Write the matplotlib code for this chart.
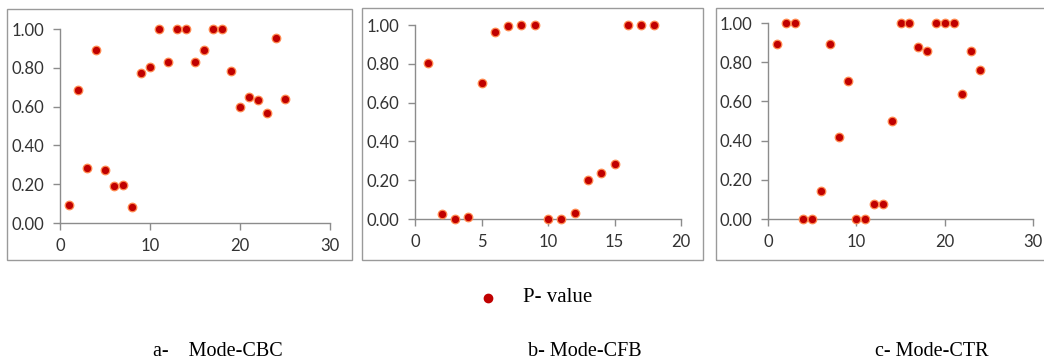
import matplotlib
matplotlib.use("Agg")
import matplotlib.pyplot as plt
from matplotlib.patches import Rectangle
from matplotlib.lines import Line2D

# ---- data ----
cbc_x = list(range(1, 26))
cbc_p = [0.095, 0.686, 0.284, 0.893, 0.272, 0.193, 0.198, 0.083, 0.771, 0.803,
         1.00, 0.828, 1.00, 1.00, 0.828, 0.890, 1.00, 1.00, 0.784, 0.597,
         0.652, 0.634, 0.567, 0.955, 0.638]

cfb_x = list(range(1, 19))
cfb_p = [0.804, 0.027, 0.0, 0.010, 0.699, 0.962, 0.997, 1.00, 1.00, 0.0,
         0.0, 0.033, 0.201, 0.238, 0.285, 1.00, 1.00, 1.00]

ctr_x = list(range(1, 25))
ctr_p = [0.891, 1.00, 1.00, 0.0, 0.0, 0.141, 0.891, 0.417, 0.702, 0.0,
         0.0, 0.075, 0.075, 0.498, 1.00, 1.00, 0.879, 0.857, 1.00, 1.00,
         1.00, 0.638, 0.857, 0.759]

x_limits = [30, 20, 30]
x_ticks = [[0, 10, 20, 30], [0, 5, 10, 15, 20], [0, 10, 20, 30]]
y_ticks = [0.0, 0.2, 0.4, 0.6, 0.8, 1.0]
captions = ["a-    Mode-CBC", "b- Mode-CFB", "c- Mode-CTR"]
legend_label = "P- value"

W, H = 1044, 361
fig = plt.figure(figsize=(W / 100, H / 100), dpi=100)
fig.patch.set_facecolor("white")

def fx(px):
    return px / W

def fy(py):
    return 1 - py / H

# panel frames (pixel coords: left, top, right, bottom)
frames = [(7, 9, 352, 260), (362, 8, 703, 260), (716, 8, 1060, 260)]
for (l, t, r, b) in frames:
    fig.patches.append(Rectangle((fx(l), fy(b)), fx(r - l), (b - t) / H,
                                 transform=fig.transFigure, fill=False,
                                 edgecolor="#9a9a9a", linewidth=1.0, zorder=0))

# axes boxes (pixel coords: left, top(y=1), right, bottom(y=0))
boxes = [(60, 29, 330, 223), (415, 25, 681, 219), (768, 23, 1033, 219)]
series = [(cbc_x, cbc_p), (cfb_x, cfb_p), (ctr_x, ctr_p)]

tick_color = "#333333"
axis_color = "#8c8c8c"
dot_face = "#c00000"
dot_edge = "#ff8a50"

for i, ((l, t, r, b), (xs, ys)) in enumerate(zip(boxes, series)):
    ax = fig.add_axes([fx(l), fy(b), fx(r - l), (b - t) / H])
    ax.set_facecolor("none")
    ax.scatter(xs, ys, s=38, color=dot_face, edgecolors=dot_edge,
               linewidths=0.9, zorder=3, clip_on=False)
    ax.set_xlim(0, x_limits[i])
    ax.set_ylim(0, 1.0)
    ax.set_xticks(x_ticks[i])
    ax.set_yticks(y_ticks)
    ax.set_yticklabels([f"{v:.2f}" for v in y_ticks])
    for s in ["top", "right"]:
        ax.spines[s].set_visible(False)
    for s in ["left", "bottom"]:
        ax.spines[s].set_color(axis_color)
        ax.spines[s].set_linewidth(1.0)
    ax.tick_params(axis="both", direction="out", length=5, width=1.0,
                   color=axis_color, labelcolor=tick_color, labelsize=12,
                   pad=6)
    for lab in ax.get_xticklabels() + ax.get_yticklabels():
        lab.set_family("Lato")

# legend
fig.lines.append(Line2D([fx(488)], [fy(298)], marker="o", markersize=6,
                        color=dot_face, linestyle="none",
                        transform=fig.transFigure))
fig.text(fx(523), fy(297), legend_label, family="Liberation Serif",
         fontsize=15, va="center", ha="left", color="black")

# captions
cap_x = [153, 528, 875]
for cx, cap in zip(cap_x, captions):
    fig.text(fx(cx), fy(351), cap, family="Liberation Serif", fontsize=14.5,
             va="center", ha="left", color="black")

fig.savefig("out.png", dpi=100, facecolor="white")
